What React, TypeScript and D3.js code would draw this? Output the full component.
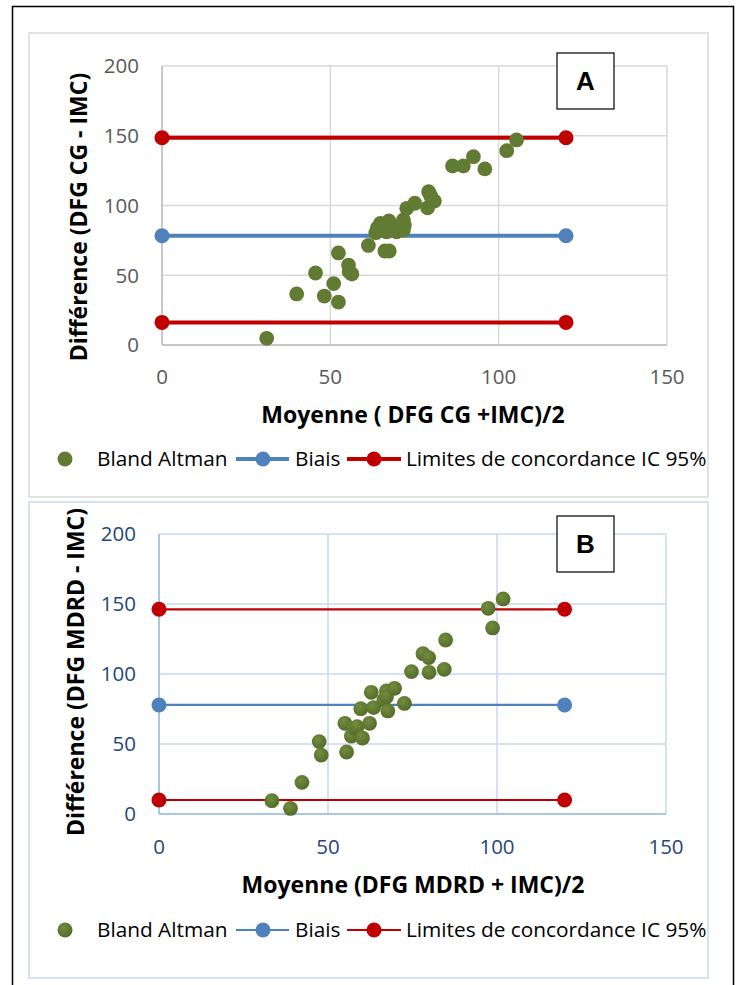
import React from 'react';
import * as d3 from 'd3';

// Panel A : DFG CG vs IMC
const meanA = [31.1, 40.0, 45.6, 48.2, 51.0, 52.4, 52.4, 55.4, 55.6, 56.4, 61.3, 63.5, 64.0, 64.9, 67.4, 66.2, 67.5, 66.7, 68.5, 69.7, 70.0, 71.7, 71.7, 72.0, 72.7, 75.1, 78.9, 79.2, 79.8, 80.9, 86.3, 89.5, 92.5, 95.9, 102.4, 105.3];
const diffA = [4.8, 36.6, 51.6, 35.1, 44.0, 30.8, 66.0, 57.3, 52.5, 50.9, 71.4, 80.5, 84.0, 87.2, 88.9, 67.4, 67.4, 81.2, 84.5, 81.2, 83.0, 89.6, 82.4, 86.0, 98.0, 101.6, 98.4, 109.9, 107.0, 103.2, 128.3, 128.3, 135.0, 126.2, 139.3, 147.0];
const biasA = 78.3;
const limitsA = [16.2, 148.6];

// Panel B : DFG MDRD vs IMC
const meanB = [33.4, 38.9, 42.3, 47.4, 48.0, 55.5, 55.0, 56.9, 57.8, 58.6, 60.2, 62.3, 59.7, 62.8, 63.5, 66.5, 67.3, 67.3, 67.7, 69.7, 72.6, 74.7, 78.1, 79.8, 79.9, 84.4, 84.8, 97.4, 98.7, 101.8];
const diffB = [9.5, 4.0, 22.6, 51.7, 42.1, 44.3, 64.8, 55.7, 61.2, 62.4, 54.3, 64.8, 75.2, 86.9, 76.0, 81.4, 87.9, 83.8, 73.6, 89.8, 79.0, 101.7, 114.5, 111.7, 101.2, 103.3, 124.3, 146.9, 132.9, 153.6];
const biasB = 77.9;
const limitsB = [10.0, 146.2];

const lineXRange = [0, 120];
const xTicks = [0, 50, 100, 150];
const yTicks = [0, 50, 100, 150, 200];
const legendLabels = ['Bland Altman', 'Biais', 'Limites de concordance IC 95%'];

const FONT = "'Open Sans', 'Noto Sans', sans-serif";
const GREEN = '#627b32';
const BLUE = '#4f81bd';
const RED = '#c00000';

interface PanelProps {
  id: string;
  box: { x: number; y: number; w: number; h: number };
  plot: { left: number; right: number; top: number; bottom: number };
  mean: number[];
  diff: number[];
  bias: number;
  limits: number[];
  letter: string;
  letterBox: { x: number; y: number };
  xTitle: string;
  xTitleY: number;
  yTitle: string;
  yTitleX: number;
  yTitleY: number;
  tickY: number;
  legendY: number;
  frameColor: string;
  gridColor: string;
  axisColor: string;
  tickColor: string;
  lineWidth: number;
  shaded: boolean;
}

const Panel: React.FC<PanelProps> = (p) => {
  const x = d3.scaleLinear().domain([0, 150]).range([p.plot.left, p.plot.right]);
  const y = d3.scaleLinear().domain([0, 200]).range([p.plot.bottom, p.plot.top]);
  const pts = d3.zip(p.mean, p.diff);
  const refLines = [
    { v: p.limits[0], c: RED },
    { v: p.bias, c: BLUE },
    { v: p.limits[1], c: RED },
  ];
  const dotFill = p.shaded ? `url(#grad-${p.id})` : GREEN;
  const lx = 65;
  return (
    <g>
      {p.shaded && (
        <defs>
          <radialGradient id={`grad-${p.id}`} cx="40%" cy="35%" r="65%">
            <stop offset="0%" stopColor="#728d3e" />
            <stop offset="100%" stopColor="#556c2a" />
          </radialGradient>
        </defs>
      )}
      <rect x={p.box.x} y={p.box.y} width={p.box.w} height={p.box.h} fill="#fff" stroke={p.frameColor} strokeWidth={1.5} />
      {/* grid */}
      {yTicks.map((t) => (
        <line key={`gy${t}`} x1={x(0)} x2={x(150)} y1={y(t)} y2={y(t)} stroke={p.gridColor} strokeWidth={1.5} />
      ))}
      {xTicks.map((t) => (
        <line key={`gx${t}`} x1={x(t)} x2={x(t)} y1={y(0)} y2={y(200)} stroke={p.gridColor} strokeWidth={1.5} />
      ))}
      <line x1={x(0)} x2={x(150)} y1={y(0)} y2={y(0)} stroke={p.axisColor} strokeWidth={1.5} />
      <line x1={x(0)} x2={x(0)} y1={y(0)} y2={y(200)} stroke={p.axisColor} strokeWidth={1.5} />
      {/* tick labels */}
      {yTicks.map((t) => (
        <text key={`ty${t}`} x={x(0) - 23} y={y(t)} dy="0.36em" textAnchor="end" fontFamily={FONT} fontSize={20.5} fill={p.tickColor}>{t}</text>
      ))}
      {xTicks.map((t) => (
        <text key={`tx${t}`} x={x(t)} y={p.tickY} dy="0.36em" textAnchor="middle" fontFamily={FONT} fontSize={20.5} fill={p.tickColor}>{t}</text>
      ))}
      {/* letter box */}
      <rect x={p.letterBox.x} y={p.letterBox.y} width={57} height={56} fill="#fff" stroke="#000" strokeWidth={1.2} />
      <text x={p.letterBox.x + 28.5} y={p.letterBox.y + 28} dy="0.36em" textAnchor="middle" fontFamily="'Liberation Sans', Arial, sans-serif" fontWeight="bold" fontSize={26}>{p.letter}</text>
      {/* bias and limits */}
      {refLines.map((r, i) => (
        <g key={`r${i}`}>
          <line x1={x(lineXRange[0])} x2={x(lineXRange[1])} y1={y(r.v)} y2={y(r.v)} stroke={r.c} strokeWidth={p.lineWidth} />
          {lineXRange.map((xv) => (
            <circle key={xv} cx={x(xv)} cy={y(r.v)} r={7.5} fill={r.c} />
          ))}
        </g>
      ))}
      {/* points */}
      {pts.map(([m, d], i) => (
        <circle key={`p${i}`} cx={x(m)} cy={y(d)} r={7.4} fill={dotFill} />
      ))}
      {/* titles */}
      <text x={413} y={p.xTitleY} dy="0.36em" textAnchor="middle" fontFamily={FONT} fontWeight="bold" fontSize={23} fill="#000">{p.xTitle}</text>
      <text transform={`translate(${p.yTitleX},${p.yTitleY}) rotate(-90)`} dy="0.36em" textAnchor="middle" fontFamily={FONT} fontWeight="bold" fontSize={23} fill="#000">{p.yTitle}</text>
      {/* legend */}
      <circle cx={lx} cy={p.legendY} r={7.5} fill={dotFill} />
      <text x={97} y={p.legendY} dy="0.36em" fontFamily={FONT} fontSize={20.8} fill="#000">{legendLabels[0]}</text>
      <line x1={236} x2={289} y1={p.legendY} y2={p.legendY} stroke={BLUE} strokeWidth={p.lineWidth} />
      <circle cx={263} cy={p.legendY} r={7.5} fill={BLUE} />
      <text x={295} y={p.legendY} dy="0.36em" fontFamily={FONT} fontSize={20.8} fill="#000">{legendLabels[1]}</text>
      <line x1={347} x2={401} y1={p.legendY} y2={p.legendY} stroke={RED} strokeWidth={p.lineWidth} />
      <circle cx={374} cy={p.legendY} r={7.5} fill={RED} />
      <text x={406} y={p.legendY} dy="0.36em" fontFamily={FONT} fontSize={20.8} fill="#000">{legendLabels[2]}</text>
    </g>
  );
};

export default function App() {
  return (
    <svg width={736} height={985} style={{ position: 'absolute', left: 0, top: 0, background: '#fff' }}>
      <rect width={736} height={985} fill="#fff" />
      <path d="M12.5,990 V6.5 H733.5 V990" fill="none" stroke="#000" strokeWidth={1.5} />
      <Panel
        id="a"
        box={{ x: 29, y: 33, w: 679, h: 464 }}
        plot={{ left: 162, right: 667, top: 66, bottom: 345 }}
        mean={meanA}
        diff={diffA}
        bias={biasA}
        limits={limitsA}
        letter="A"
        letterBox={{ x: 557, y: 53 }}
        xTitle="Moyenne ( DFG CG +IMC)/2"
        xTitleY={415}
        yTitle="Différence  (DFG CG  -  IMC)"
        yTitleX={79}
        yTitleY={217}
        tickY={377}
        legendY={459}
        frameColor="#d9d9d9"
        gridColor="#d9d9d9"
        axisColor="#bfbfbf"
        tickColor="#595959"
        lineWidth={4}
        shaded={false}
      />
      <Panel
        id="b"
        box={{ x: 29, y: 502, w: 679, h: 476 }}
        plot={{ left: 159, right: 666, top: 534, bottom: 814 }}
        mean={meanB}
        diff={diffB}
        bias={biasB}
        limits={limitsB}
        letter="B"
        letterBox={{ x: 557, y: 516 }}
        xTitle="Moyenne (DFG MDRD + IMC)/2"
        xTitleY={885}
        yTitle="Différence (DFG MDRD - IMC)"
        yTitleX={76}
        yTitleY={672}
        tickY={847}
        legendY={930}
        frameColor="#c6d9f1"
        gridColor="#c6d9f1"
        axisColor="#9dbde3"
        tickColor="#254779"
        lineWidth={2.2}
        shaded={true}
      />
    </svg>
  );
}
